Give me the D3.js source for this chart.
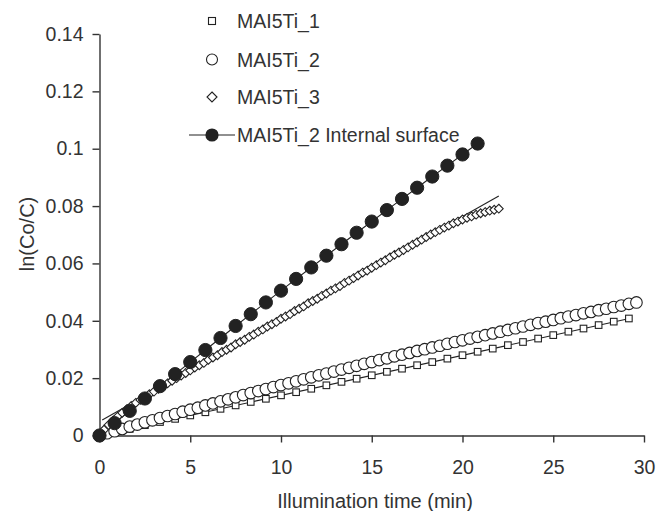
<!DOCTYPE html>
<html>
<head>
<meta charset="utf-8">
<script src="https://cdn.jsdelivr.net/npm/d3@7"></script>
<style>
  body { margin: 0; background: #fff; }
  text { font-family: "Liberation Sans", Arial, sans-serif; fill: #333; }
  .axis path, .axis line { stroke: #333; stroke-width: 1.4; }
  .axis text { font-size: 19.5px; fill: #333; }
</style>
</head>
<body>
<script>
// sampling interval of each series, in seconds
const step1 = 50, step2 = 25, step3 = 15, step4 = 50;

// ln(Co/C) readings, one per sample
const mai1 = [0, 0.0012, 0.0023, 0.0036, 0.0047, 0.0058, 0.0070, 0.0081, 0.0093, 0.0105,
  0.0117, 0.0128, 0.0140, 0.0151, 0.0163, 0.0175, 0.0187, 0.0198, 0.0210, 0.0222,
  0.0233, 0.0245, 0.0256, 0.0268, 0.0280, 0.0292, 0.0303, 0.0315, 0.0326, 0.0338,
  0.0350, 0.0362, 0.0373, 0.0385, 0.0397, 0.0408];

const mai2 = [0, 0.0008, 0.0015, 0.0023, 0.0031, 0.0038, 0.0046, 0.0053, 0.0061, 0.0068,
  0.0075, 0.0083, 0.0090, 0.0097, 0.0105, 0.0112, 0.0119, 0.0126, 0.0133, 0.0141,
  0.0148, 0.0155, 0.0162, 0.0169, 0.0176, 0.0182, 0.0189, 0.0196, 0.0203, 0.0210,
  0.0216, 0.0223, 0.0230, 0.0236, 0.0243, 0.0250, 0.0256, 0.0263, 0.0269, 0.0276,
  0.0282, 0.0288, 0.0295, 0.0301, 0.0307, 0.0313, 0.0320, 0.0326, 0.0332, 0.0338,
  0.0344, 0.0350, 0.0356, 0.0362, 0.0368, 0.0374, 0.0380, 0.0386, 0.0392, 0.0397,
  0.0403, 0.0409, 0.0415, 0.0420, 0.0426, 0.0431, 0.0437, 0.0442, 0.0448, 0.0453,
  0.0459, 0.0464];

const mai3 = [0, 0.0020, 0.0037, 0.0052, 0.0066, 0.0079, 0.0091, 0.0103, 0.0114, 0.0124,
  0.0134, 0.0144, 0.0153, 0.0163, 0.0172, 0.0182, 0.0191, 0.0200, 0.0209, 0.0218,
  0.0227, 0.0237, 0.0245, 0.0253, 0.0264, 0.0272, 0.0280, 0.0291, 0.0299, 0.0307,
  0.0318, 0.0326, 0.0334, 0.0344, 0.0352, 0.0362, 0.0370, 0.0380, 0.0388, 0.0396,
  0.0407, 0.0415, 0.0423, 0.0434, 0.0442, 0.0450, 0.0461, 0.0469, 0.0477, 0.0487,
  0.0495, 0.0505, 0.0513, 0.0521, 0.0532, 0.0540, 0.0549, 0.0558, 0.0568, 0.0575,
  0.0585, 0.0594, 0.0603, 0.0611, 0.0621, 0.0630, 0.0638, 0.0647, 0.0656, 0.0665,
  0.0674, 0.0683, 0.0692, 0.0701, 0.0709, 0.0717, 0.0725, 0.0732, 0.0740, 0.0746,
  0.0753, 0.0759, 0.0764, 0.0770, 0.0775, 0.0779, 0.0784, 0.0787, 0.0791];

const mai2Inner = [0, 0.0043, 0.0086, 0.0129, 0.0172, 0.0214, 0.0256, 0.0298, 0.0340, 0.0382,
  0.0423, 0.0464, 0.0505, 0.0546, 0.0586, 0.0627, 0.0667, 0.0707, 0.0746, 0.0786,
  0.0825, 0.0864, 0.0903, 0.0941, 0.0980, 0.1018];

// linear fits: [t start, t end] and [value start, value end]
const fit1T = [0, 29.2], fit1V = [0, 0.0408];
const fit2T = [0, 29.6], fit2V = [0.0010, 0.0464];
const fit3T = [0.15, 22], fit3V = [0.0054, 0.0835];

const xTicks = [0, 5, 10, 15, 20, 25, 30];
const yTicks = [0, 0.02, 0.04, 0.06, 0.08, 0.1, 0.12, 0.14];
const legendLabels = ["MAI5Ti_1", "MAI5Ti_2", "MAI5Ti_3", "MAI5Ti_2 Internal surface"];

const W = 658, H = 511;
const x = d3.scaleLinear().domain([0, 30]).range([99.5, 644]);
const y = d3.scaleLinear().domain([0, 0.14]).range([435.5, 34]);

const svg = d3.select("body").append("svg")
    .attr("width", W)
    .attr("height", H);

const toPoints = (vals, step) => vals.map((v, i) => ({ t: i * step / 60, v: v }));
const s1 = toPoints(mai1, step1);
const s2 = toPoints(mai2, step2);
const s3 = toPoints(mai3, step3);
const s4 = toPoints(mai2Inner, step4);

// axes
svg.append("g")
    .attr("class", "axis")
    .attr("transform", `translate(0,${y(0)})`)
    .call(d3.axisBottom(x).tickValues(xTicks).tickSize(7).tickSizeOuter(0).tickPadding(18).tickFormat(d3.format("d")));

svg.append("g")
    .attr("class", "axis")
    .attr("transform", `translate(${x(0)},0)`)
    .call(d3.axisLeft(y).tickValues(yTicks).tickSize(7).tickSizeOuter(0).tickPadding(9).tickFormat(d => d === 0 ? "0" : String(d)));

svg.append("text")
    .attr("x", 375)
    .attr("y", 508)
    .attr("text-anchor", "middle")
    .style("font-size", "20px")
    .text("Illumination time (min)");

svg.append("text")
    .attr("transform", "translate(34,234) rotate(-90)")
    .attr("text-anchor", "middle")
    .style("font-size", "20px")
    .text("ln(Co/C)");

// fit lines
const line = d3.line().x(d => x(d.t)).y(d => y(d.v));
[[fit1T, fit1V], [fit2T, fit2V], [fit3T, fit3V]].forEach(([ts, vs]) => {
    svg.append("path")
        .datum(ts.map((t, i) => ({ t: t, v: vs[i] })))
        .attr("d", line)
        .attr("fill", "none")
        .attr("stroke", "#222")
        .attr("stroke-width", 1.1);
});

svg.append("path")
    .datum(s4)
    .attr("d", line)
    .attr("fill", "none")
    .attr("stroke", "#222")
    .attr("stroke-width", 1.1);

// markers
const diamond = r => `M0,${-r}L${r},0L0,${r}L${-r},0Z`;

svg.append("g").selectAll("rect").data(s1).join("rect")
    .attr("x", d => x(d.t) - 3.3)
    .attr("y", d => y(d.v) - 3.3)
    .attr("width", 6.6)
    .attr("height", 6.6)
    .attr("fill", "#fff")
    .attr("stroke", "#222")
    .attr("stroke-width", 1.1);

svg.append("g").selectAll("circle").data(s2).join("circle")
    .attr("cx", d => x(d.t))
    .attr("cy", d => y(d.v))
    .attr("r", 5.8)
    .attr("fill", "#fff")
    .attr("stroke", "#222")
    .attr("stroke-width", 1.1);

svg.append("g").selectAll("path").data(s3).join("path")
    .attr("transform", d => `translate(${x(d.t)},${y(d.v)})`)
    .attr("d", diamond(4.4))
    .attr("fill", "#fff")
    .attr("stroke", "#222")
    .attr("stroke-width", 1.1);

svg.append("g").selectAll("circle").data(s4).join("circle")
    .attr("cx", d => x(d.t))
    .attr("cy", d => y(d.v))
    .attr("r", 6.6)
    .attr("fill", "#222")
    .attr("stroke", "#222");

// legend
const legendY = [21, 59.5, 97, 135];
const lg = svg.append("g");
lg.append("rect").attr("x", 208.5).attr("y", legendY[0] - 3.5).attr("width", 7).attr("height", 7)
    .attr("fill", "#fff").attr("stroke", "#222").attr("stroke-width", 1.1);
lg.append("circle").attr("cx", 212).attr("cy", legendY[1]).attr("r", 5.5)
    .attr("fill", "#fff").attr("stroke", "#222").attr("stroke-width", 1.1);
lg.append("path").attr("transform", `translate(212,${legendY[2]})`).attr("d", diamond(5))
    .attr("fill", "#fff").attr("stroke", "#222").attr("stroke-width", 1.1);
lg.append("line").attr("x1", 189).attr("x2", 235).attr("y1", legendY[3]).attr("y2", legendY[3])
    .attr("stroke", "#222").attr("stroke-width", 1.1);
lg.append("circle").attr("cx", 212).attr("cy", legendY[3]).attr("r", 6.6)
    .attr("fill", "#222");

legendLabels.forEach((label, i) => {
    lg.append("text")
        .attr("x", 237)
        .attr("y", legendY[i])
        .attr("dy", "0.36em")
        .style("font-size", "19.5px")
        .text(label);
});
</script>
</body>
</html>
